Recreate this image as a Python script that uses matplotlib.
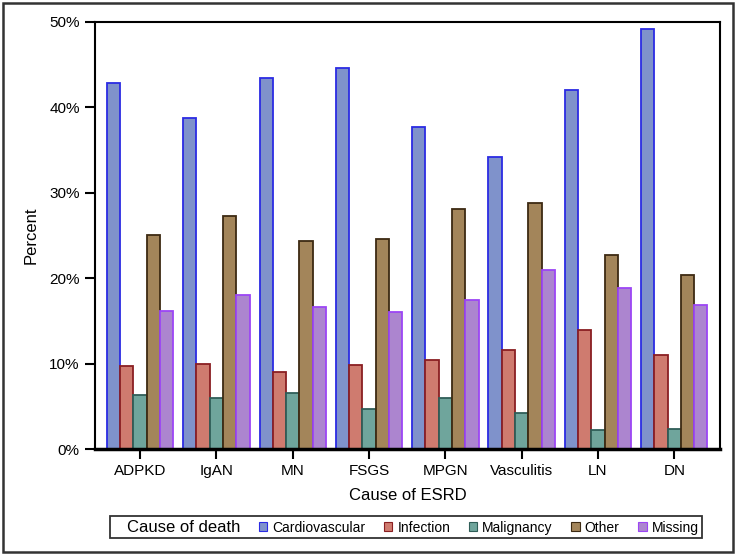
import matplotlib
matplotlib.use("Agg")
import matplotlib.pyplot as plt
from matplotlib.patches import Patch, Rectangle
from matplotlib.ticker import FuncFormatter
import numpy as np

plt.rcParams['font.family'] = ['Liberation Sans', 'DejaVu Sans']

categories = ["ADPKD", "IgAN", "MN", "FSGS", "MPGN", "Vasculitis", "LN", "DN"]
causes = ["Cardiovascular", "Infection", "Malignancy", "Other", "Missing"]

cardiovascular = [42.8, 38.7, 43.4, 44.6, 37.7, 34.2, 42.0, 49.2]
infection = [9.7, 9.9, 9.0, 9.8, 10.4, 11.6, 13.9, 11.0]
malignancy = [6.3, 6.0, 6.6, 4.7, 6.0, 4.2, 2.2, 2.3]
other = [25.0, 27.3, 24.4, 24.6, 28.1, 28.8, 22.7, 20.4]
missing = [16.2, 18.0, 16.6, 16.0, 17.4, 21.0, 18.8, 16.8]

FILLS = ["#7f92cb", "#cf7b6f", "#6fa59c", "#a3855a", "#ac85cf"]
EDGES = ["#2b2be3", "#8a1f22", "#2f5e58", "#3d2a12", "#9c45f5"]

series = [cardiovascular, infection, malignancy, other, missing]

fig = plt.figure(figsize=(7.37, 5.54), dpi=100)
ax = fig.add_axes([0.129, 0.1895, 0.848, 0.771])

x = np.arange(len(categories))
w = 0.174
for i, vals in enumerate(series):
    ax.bar(x + (i - 2) * w, vals, width=w, color=FILLS[i], edgecolor=EDGES[i],
           linewidth=1.3, label=causes[i])

ax.set_xlim(-0.59, 7.6)
ax.set_ylim(0, 50)
ax.set_yticks([0, 10, 20, 30, 40, 50])
ax.yaxis.set_major_formatter(FuncFormatter(lambda v, p: "%d%%" % v))
ax.set_xticks(x)
ax.set_xticklabels(categories)
ax.tick_params(axis='both', direction='out', length=7, width=1.5, labelsize=11, pad=4)

for s in ax.spines.values():
    s.set_linewidth(1.5)
ax.spines['bottom'].set_linewidth(2.5)

ax.set_xlabel("Cause of ESRD", fontsize=12, labelpad=7)
ax.set_ylabel("Percent", fontsize=12, labelpad=8)

handles = [Patch(facecolor='none', edgecolor='none')]
handles += [Patch(facecolor=FILLS[i], edgecolor=EDGES[i], linewidth=0.8) for i in range(5)]
labels = ["Cause of death"] + causes
leg = fig.legend(handles, labels, loc='center', bbox_to_anchor=(0.551, 0.0487),
                 ncol=6, frameon=True, fancybox=False, fontsize=10,
                 handlelength=0.6, handleheight=0.6, handletextpad=0.35,
                 columnspacing=1.35, borderpad=0.25, borderaxespad=0)
leg.get_frame().set_edgecolor('black')
leg.get_frame().set_linewidth(1.3)
leg.get_texts()[0].set_fontsize(12)

fig.patches.append(Rectangle((0.004, 0.004), 0.991, 0.991, transform=fig.transFigure,
                             fill=False, edgecolor='#333333', linewidth=1.8))

plt.savefig("out.png", dpi=100)
